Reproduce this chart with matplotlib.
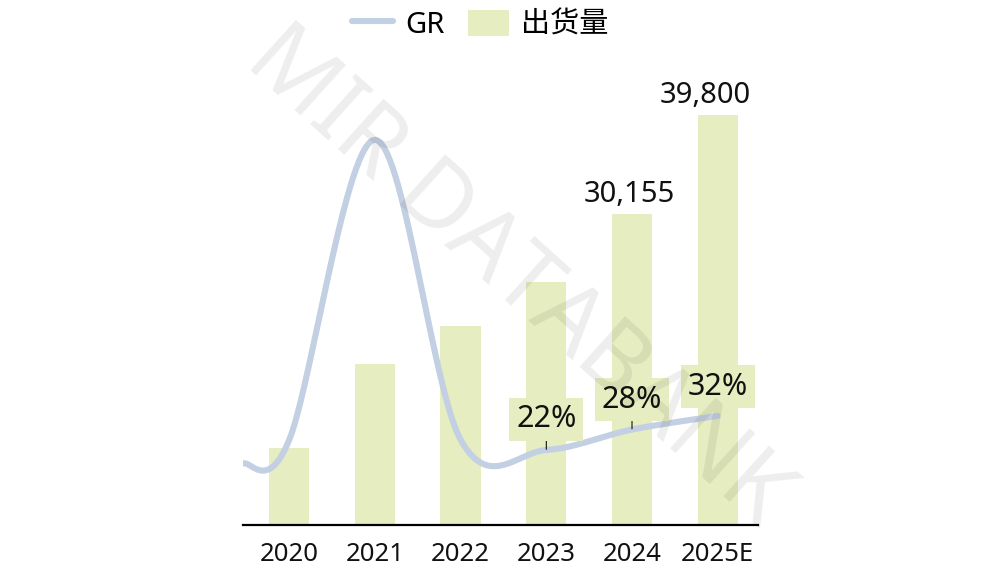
import numpy as np
import matplotlib
matplotlib.use('Agg')
import matplotlib.pyplot as plt
from matplotlib.lines import Line2D
from matplotlib.patches import Patch

plt.rcParams['font.family'] = ['Noto Sans', 'Noto Sans CJK SC', 'DejaVu Sans']

# data
years = ['2020', '2021', '2022', '2023', '2024', '2025E']
shipments = [7450, 15600, 19300, 23550, 30155, 39800]
bar_labels = ['', '', '', '', '30,155', '39,800']
# growth line: first point is where the drawn curve starts, left of 2020
gr_x = [-0.54, 0, 1, 2, 3, 4, 5]
gr = [18, 25, 113, 25, 22, 28, 32]
gr_labels = {3: '22%', 4: '28%', 5: '32%'}

bar_color = '#e6edc0'
line_color = '#c3cfe2'


def smooth(xs, ys, n=40):
    # excel-like smoothed line (catmull-rom as bezier segments)
    p = np.column_stack([xs, ys]).astype(float)
    pts = np.vstack([p[0], p, p[-1]])
    out = []
    t = np.linspace(0, 1, n)[:, None]
    for i in range(1, len(pts) - 2):
        p0, p1, p2, p3 = pts[i - 1], pts[i], pts[i + 1], pts[i + 2]
        c1 = p1 + (p2 - p0) / 6
        c2 = p2 - (p3 - p1) / 6
        seg = ((1 - t) ** 3) * p1 + 3 * ((1 - t) ** 2) * t * c1 + 3 * (1 - t) * t ** 2 * c2 + t ** 3 * p2
        out.append(seg)
    out = np.vstack(out)
    return out[:, 0], out[:, 1]


fig = plt.figure(figsize=(10.07, 5.79), dpi=100)
ax = fig.add_axes([0.2413, 0.0933, 0.5114, 0.803])
x = np.arange(len(years))

ax.bar(x, shipments, width=0.47, color=bar_color, zorder=1)
label_dx = [0, 0, 0, 0, -2, -9]
for i, lab in enumerate(bar_labels):
    if lab:
        ax.annotate(lab, (x[i], shipments[i]), xytext=(label_dx[i], 9), textcoords='offset points',
                    ha='center', va='baseline', fontsize=21, color='#111111')

ax.set_xlim(-0.54, 5.47)
ax.set_ylim(0, 45150)
ax.set_xticks(x)
ax.set_xticklabels(years, fontsize=18.5, color='#111111')
ax.tick_params(axis='x', length=0, pad=12)
ax.set_yticks([])
for s in ['top', 'right', 'left']:
    ax.spines[s].set_visible(False)
ax.spines['bottom'].set_linewidth(1.6)
ax.spines['bottom'].set_color('black')

ax2 = ax.twinx()
ax2.set_ylim(0, 136.4)
ax2.set_yticks([])
for s in ['top', 'right', 'left', 'bottom']:
    ax2.spines[s].set_visible(False)
sx, sy = smooth(gr_x, gr)
ax2.plot(sx, sy, color=line_color, lw=4.4, solid_capstyle='round', zorder=3)

offsets = {3: 22, 4: 21.5, 5: 21}
for i, lab in gr_labels.items():
    j = gr_x.index(i)
    ax2.annotate(lab, (i, gr[j]), xytext=(0, offsets[i]), textcoords='offset points',
                 ha='center', va='center', fontsize=22, color='#111111',
                 bbox=dict(boxstyle='square,pad=0.22', fc=bar_color, ec='none'),
                 arrowprops=dict(arrowstyle='-', color='#111111', lw=0.8,
                                 shrinkA=0, shrinkB=0.5) if i != 5 else None,
                 zorder=4)

handles = [Line2D([0], [0], color=line_color, lw=4.4, solid_capstyle='round'),
           Patch(facecolor=bar_color, edgecolor='none')]
leg = fig.legend(handles, ['GR', '出货量'], loc='center', bbox_to_anchor=(0.477, 0.957),
                 ncol=2, frameon=False, fontsize=21, handlelength=1.4, handleheight=1.0,
                 handletextpad=0.4, columnspacing=0.83)

fig.text(0.514, 0.52, 'MIR DATABANK', rotation=-42, ha='center', va='center',
         fontsize=68, color='black', alpha=0.07, zorder=10)

plt.savefig('out.png', dpi=100)
